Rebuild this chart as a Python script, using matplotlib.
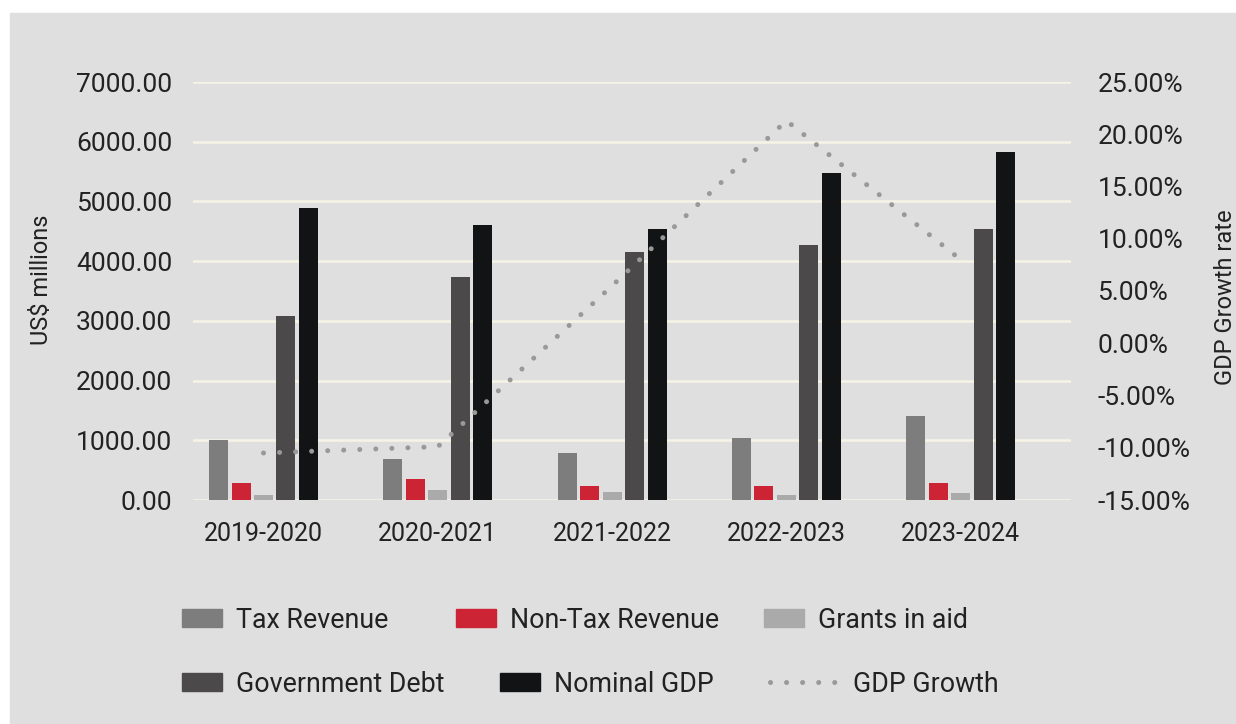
import matplotlib.pyplot as plt
from matplotlib.patches import Rectangle, Patch
from matplotlib.lines import Line2D
import numpy as np

plt.rcParams['font.family'] = ['Roboto', 'DejaVu Sans']

years = ['2019-2020', '2020-2021', '2021-2022', '2022-2023', '2023-2024']
tax_revenue = [1005, 685, 790, 1030, 1405]
non_tax_revenue = [285, 350, 240, 240, 280]
grants_in_aid = [80, 170, 140, 90, 120]
government_debt = [3085, 3735, 4155, 4270, 4540]
nominal_gdp = [4890, 4605, 4540, 5475, 5830]
gdp_growth = [-10.5, -9.9, 5.5, 21.3, 8.0]

bar_names = ['Tax Revenue', 'Non-Tax Revenue', 'Grants in aid', 'Government Debt', 'Nominal GDP']
bar_colors = ['#7d7d7e', '#cc2434', '#aaaaab', '#4b494a', '#121314']
text_col = '#222222'
dots = (0, (0.01, 3.2))


def main():
    fig = plt.figure(figsize=(12.36, 7.24), dpi=100, facecolor='white')
    # grey panel behind everything
    fig.patches.append(Rectangle((10 / 1236, 0), 1, (724 - 13) / 724,
                                 transform=fig.transFigure, color='#dfdfdf', zorder=-5))

    ax = fig.add_axes([193 / 1236, 1 - 500 / 724, (1071 - 193) / 1236, (500 - 82) / 724])
    ax.set_facecolor('none')

    x = np.arange(len(years))
    step = 0.129
    width = 0.109
    series = [tax_revenue, non_tax_revenue, grants_in_aid, government_debt, nominal_gdp]
    for i, vals in enumerate(series):
        ax.bar(x + (i - 2) * step, vals, width, color=bar_colors[i], zorder=3)

    ax.set_ylim(0, 7000)
    ax.set_yticks(range(0, 7001, 1000))
    ax.set_yticklabels(['%.2f' % v for v in range(0, 7001, 1000)])
    ax.set_xlim(-0.4045, 4.633)
    ax.set_xticks(x)
    ax.set_xticklabels(years)
    ax.yaxis.grid(True, color='#f7f3e6', lw=1.8, zorder=0)
    ax.set_axisbelow(True)
    for s in ax.spines.values():
        s.set_visible(False)
    ax.tick_params(axis='y', length=0, pad=15, labelsize=19, labelcolor=text_col)
    ax.tick_params(axis='x', length=0, pad=16, labelsize=18, labelcolor=text_col)

    ax2 = ax.twinx()
    ax2.plot(x, gdp_growth, color='#999999', lw=3.6, linestyle=dots,
             dash_capstyle='round', zorder=5)
    ax2.set_ylim(-15, 25)
    ax2.set_yticks(range(-15, 26, 5))
    ax2.set_yticklabels(['%.2f%%' % v for v in range(-15, 26, 5)])
    for s in ax2.spines.values():
        s.set_visible(False)
    ax2.tick_params(axis='y', length=0, pad=19, labelsize=19, labelcolor=text_col)

    fig.text(42 / 1236, 1 - 280 / 724, 'US$ millions', rotation=90, ha='center', va='center',
             fontsize=17, color=text_col)
    fig.text(1225 / 1236, 1 - 297 / 724, 'GDP Growth rate', rotation=90, ha='center', va='center',
             fontsize=17, color=text_col)

    # legend, two rows laid out like the original
    handles = [Patch(color=c) for c in bar_colors]
    handles.append(Line2D([], [], color='#999999', lw=3.6, linestyle=dots,
                          dash_capstyle='round'))
    names = bar_names + ['GDP Growth']
    spots = [(182, 620), (456, 620), (764, 620), (182, 684), (500, 684), (770, 684)]
    for h, n, (px, py) in zip(handles, names, spots):
        hl = 2.6 if n == 'GDP Growth' else 1.5
        fig.legend([h], [n], loc='center left', bbox_to_anchor=(px / 1236, 1 - py / 724),
                   frameon=False, fontsize=19.3, handlelength=hl, handleheight=0.68,
                   handletextpad=0.5, borderpad=0, borderaxespad=0, labelcolor=text_col)

    fig.savefig('out.png', dpi=100, facecolor='white')


if __name__ == "__main__":
    main()
